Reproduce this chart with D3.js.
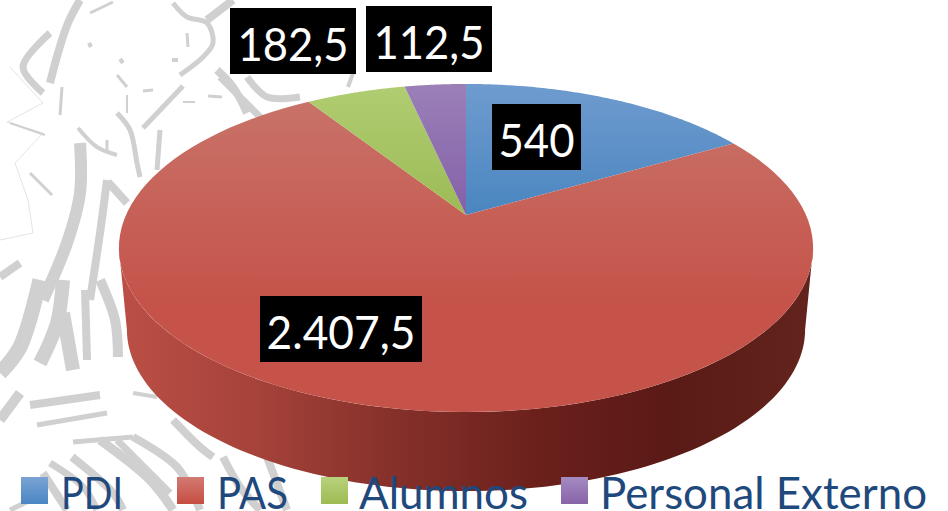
<!DOCTYPE html>
<html><head><meta charset="utf-8">
<script src="https://cdnjs.cloudflare.com/ajax/libs/d3/7.8.5/d3.min.js"></script>
<style>html,body{margin:0;padding:0;background:#fff;overflow:hidden}svg{display:block}</style>
</head><body><svg id="c" width="948" height="511"></svg>
<script>
const categories = ["PDI","PAS","Alumnos","Personal Externo"];
const values = [540,2407.5,182.5,112.5];
const valueLabels = ["540","2.407,5","182,5","112,5"];
const topColors = [["#6f9bcf","#4a86c0"],["#c9756b","#c5534a"],["#b0cd72","#9cbb55"],["#9b80b8","#8460a8"]];
const legendColors = [["#7aa3d3","#4a86c4"],["#d27a72","#c64d42"],["#b8d27c","#9dbb52"],["#a58bc2","#8763a8"]];

const svg = d3.select("#c");
const defs = svg.append("defs");

/* faded engraving in the background: [stroke width, path] */
const bgStrokes = [
 [8,[[80,0],[68,23],[58,53],[50,83]]],
 [7,[[50,33],[23,67],[43,93]]],
 [3,[[90,13],[113,2]]],
 [5,[[173,3],[187,17],[207,23],[213,43],[203,57],[180,75]]],
 [8,[[233,0],[207,20]]],
 [3,[[187,33],[188,47]]],[4,[[172,60],[178,60]]],[4,[[120,59],[123,63]]],[4,[[89,43],[91,47]]],
 [3,[[117,75],[127,87]]],[3,[[143,91],[153,90]]],[5,[[183,86],[143,128]]],
 [2,[[183,102],[195,102]]],[3,[[208,96],[222,97]]],
 [8,[[217,70],[233,87],[247,113]]],[7,[[247,77],[267,97],[300,97]]],
 [7,[[220,77],[240,97],[263,120]]],[4,[[348,87],[353,73]]],
 [2,[[127,95],[127,113]]],[5,[[117,113],[130,130],[137,163],[140,177]]],
 [5,[[160,130],[157,170]]],[4,[[78,128],[97,147],[117,155]]],[3,[[107,140],[107,150]]],
 [3,[[30,173],[52,195]]],[3,[[62,87],[60,115]]],
 [12,[[80,143],[80,193],[67,243],[43,300]]],
 [8,[[107,180],[100,233],[90,300]]],[8,[[108,182],[127,203]]],
 [8,[[0,277],[20,263]]],[2,[[10,123],[45,135]]],
 [15,[[40,280],[20,347],[0,373]]],[14,[[63,280],[57,323],[40,363]]],
 [10,[[100,280],[115,320],[118,357]]],[14,[[63,313],[73,370]]],[8,[[85,290],[87,360]]],
 [8,[[30,405],[100,395]]],[5,[[37,425],[107,413]]],[10,[[0,420],[20,393]]],[4,[[133,393],[157,397]]],
 [5,[[73,442],[133,437]]],
 [8,[[72,457],[113,493],[123,510]]],[9,[[100,440],[150,480],[173,510]]],
 [7,[[117,440],[157,480],[170,493]]],[8,[[133,437],[177,467],[200,510]]],
 [8,[[173,420],[200,447],[213,457]]],[8,[[223,457],[240,487],[260,510]]],[8,[[267,457],[287,510]]],
 [7,[[50,463],[83,487],[97,510]]],[5,[[37,497],[10,510]]],[8,[[43,473],[67,510]]]
];
const bgOutline = [[10,67],[43,103],[7,122],[43,133],[15,163],[28,200],[33,233],[0,240]];
const bgLine = d3.line().curve(d3.curveCatmullRom);
svg.append("path").attr("d",d3.line()(bgOutline)).attr("fill","none").attr("stroke","#dcdcdc").attr("stroke-width",0.8);
svg.append("g").selectAll("path").data(bgStrokes).join("path")
  .attr("d",d=>bgLine(d[1])).attr("fill","none").attr("stroke","#d0d0d0")
  .attr("stroke-width",d=>d[0]);

/* perspective projection of the pie's unit disc */
const cx=466, apexY=215, A=340, B=157.4, k=0.2012, depth=82;
const proj=(a,r=1,dz=0)=>{
  const x=r*Math.sin(a), y=r*Math.cos(a), w=1+k*y;
  const sx=dz?0.977:1, sy=dz?0.985:1;
  return [cx+A*sx*x/w, apexY+dz-B*sy*y/w];
};
const angles = d3.pie().sort(null).value(d=>d).startAngle(0).endAngle(2*Math.PI)(values);
const line = d3.line();
const rimPts=(a0,a1,dz=0)=>d3.range(0,101).map(i=>proj(a0+(a1-a0)*i/100,1,dz));

/* side wall */
const wallG=defs.append("linearGradient").attr("id","wall").attr("gradientUnits","userSpaceOnUse")
 .attr("x1",120).attr("x2",810).attr("y1",0).attr("y2",0);
[[0,"#bb4f45"],[0.2,"#a5423a"],[0.4,"#85302a"],[0.62,"#6a1f1b"],[0.8,"#5a1a16"],[1,"#62241c"]].forEach(s=>wallG.append("stop").attr("offset",s[0]).attr("stop-color",s[1]));
const wA=Math.PI/2+0.2026;
const wallPts=rimPts(wA,2*Math.PI-wA).concat(rimPts(2*Math.PI-wA,wA,depth));
svg.append("path").attr("d",line(wallPts)+"Z").attr("fill","url(#wall)");

/* top slices */
angles.forEach((d,i)=>{
  const g=defs.append("linearGradient").attr("id","t"+i).attr("gradientUnits","userSpaceOnUse")
    .attr("x1",0).attr("x2",0).attr("y1",84).attr("y2",i==1?300:215);
  g.append("stop").attr("offset",0).attr("stop-color",topColors[i][0]);
  g.append("stop").attr("offset",1).attr("stop-color",topColors[i][1]);
});
svg.append("g").selectAll("path").data(angles).join("path")
  .attr("d",d=>line([proj(0,0)].concat(rimPts(d.startAngle,d.endAngle)))+"Z")
  .attr("fill",(d,i)=>`url(#t${i})`);

/* value labels */
const labelBoxes=[[492,104,89,66,76],[260,296,162,66,149],[230,8,126,66,111],[366,6,126,66,111]];
const lab=svg.append("g").selectAll("g").data(valueLabels).join("g")
  .attr("transform",(d,i)=>`translate(${labelBoxes[i][0]},${labelBoxes[i][1]})`);
lab.append("rect").attr("width",(d,i)=>labelBoxes[i][2]).attr("height",(d,i)=>labelBoxes[i][3]).attr("fill","#000");
lab.append("text").text(d=>d).attr("x",(d,i)=>labelBoxes[i][2]/2).attr("y",53)
  .attr("text-anchor","middle").attr("fill","#fff")
  .attr("textLength",(d,i)=>labelBoxes[i][4]).attr("lengthAdjust","spacingAndGlyphs")
  .style("font-family","Lato,'Open Sans',sans-serif").style("font-size","47px");

/* legend */
const legendSw=[21,177,321,561], legendTx=[[61,62],[217,71],[359,169],[600,327]];
const lg=svg.append("g").selectAll("g").data(categories).join("g");
categories.forEach((c,i)=>{
  const g=defs.append("linearGradient").attr("id","l"+i).attr("x1",0).attr("x2",0).attr("y1",0).attr("y2",1);
  g.append("stop").attr("offset",0).attr("stop-color",legendColors[i][0]);
  g.append("stop").attr("offset",1).attr("stop-color",legendColors[i][1]);
});
lg.append("rect").attr("x",(d,i)=>legendSw[i]).attr("y",477).attr("width",27).attr("height",27).attr("fill",(d,i)=>`url(#l${i})`);
lg.append("text").text(d=>d).attr("x",(d,i)=>legendTx[i][0]).attr("y",509)
  .attr("textLength",(d,i)=>legendTx[i][1]).attr("lengthAdjust","spacingAndGlyphs")
  .attr("fill","#1f497d").style("font-family","Lato,'Open Sans',sans-serif").style("font-size","44px");
</script></body></html>
